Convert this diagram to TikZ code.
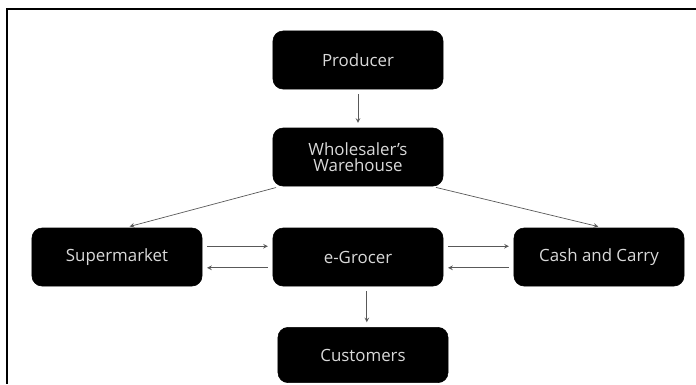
\documentclass[tikz,border=0pt]{standalone}
\usepackage{fontspec}
\setsansfont{Open Sans}
\tikzset{
  stage/.style={draw=black,fill=black,rounded corners=0.25cm,minimum width=4.25cm,minimum height=1.45cm,
    align=center,text=white!85!black,font=\sffamily\fontsize{12}{13}\selectfont},
  flow/.style={->,draw=black!65,line width=0.5pt,shorten >=0.12cm,shorten <=0.12cm}
}
\begin{document}
\begin{tikzpicture}[>=stealth,x=0.025cm,y=-0.025cm]
				\useasboundingbox (0,0) rectangle (696,384);
				\draw[line width=1.5pt] (696,9)--(7,9)--(7,384);
				\node[stage] (prod) at (358,60) {Producer};
				\node[stage] (wh) at (358,157) {Wholesaler's\\[-2pt]Warehouse};
				\node[stage] (sm) at (117,257) {Supermarket};
				\node[stage] (eg) at (358,257) {e-Grocer};
				\node[stage] (cc) at (599,257) {Cash and Carry};
				\node[stage,minimum height=1.38cm] (cust) at (363,355) {Customers};
				\draw[flow] (prod)--(wh);
				\draw[flow] ([xshift=0.2cm]wh.south west)--([xshift=0.2cm]sm.north);
				\draw[flow] ([xshift=-0.3cm]wh.south east)--([xshift=0.1cm]cc.north);
				\draw[flow] ([yshift=0.27cm]sm.east)--([yshift=0.27cm]eg.west);
				\draw[flow] ([yshift=-0.27cm]eg.west)--([yshift=-0.27cm]sm.east);
				\draw[flow] ([yshift=0.27cm]eg.east)--([yshift=0.27cm]cc.west);
				\draw[flow] ([yshift=-0.27cm]cc.west)--([yshift=-0.27cm]eg.east);
				\draw[flow] ([xshift=0.22cm]eg.south)--([xshift=0.22cm]eg.south |- cust.north);
		\end{tikzpicture}
\end{document}
